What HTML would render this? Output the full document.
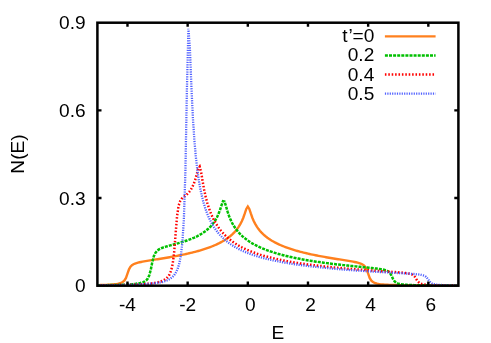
<!DOCTYPE html>
<html><head><meta charset="utf-8"><title>N(E)</title>
<style>
html,body{margin:0;padding:0;background:#fff;}
body{width:491px;height:343px;position:relative;overflow:hidden;font-family:"Liberation Sans",sans-serif;}
.lay{position:absolute;left:0;top:0;width:491px;height:343px;will-change:transform;}
.t{position:absolute;font-size:19.1px;line-height:21px;white-space:nowrap;color:#000;}
.yl{position:absolute;left:17.3px;top:154.3px;font-size:19.1px;line-height:21px;white-space:nowrap;transform:translate(-50%,-50%) rotate(-90deg);}
</style></head><body>
<svg width="491" height="343" viewBox="0 0 491 343" style="position:absolute;left:0;top:0">
<defs><clipPath id="c"><rect x="96.2" y="21.5" width="363.40" height="265.40"/></clipPath></defs><g clip-path="url(#c)">
<path d="M97.40,285.13 L98.90,285.10 L100.41,285.05 L101.91,285.01 L103.42,284.96 L104.92,284.90 L106.42,284.83 L107.93,284.76 L109.43,284.67 L110.94,284.58 L112.44,284.46 L113.95,284.32 L115.45,284.15 L116.95,283.93 L118.46,283.65 L119.96,283.26 L121.47,282.71 L122.97,281.87 L124.47,280.46 L125.98,277.89 L127.48,273.65 L128.99,269.37 L130.49,266.73 L132.00,265.22 L133.50,264.26 L135.00,263.59 L136.51,263.07 L138.01,262.64 L139.52,262.28 L141.02,261.96 L142.52,261.66 L144.03,261.38 L145.53,261.12 L147.04,260.86 L148.54,260.62 L150.05,260.38 L151.55,260.14 L153.05,259.90 L154.56,259.66 L156.06,259.43 L157.57,259.19 L159.07,258.95 L160.57,258.71 L162.08,258.47 L163.58,258.23 L165.09,257.98 L166.59,257.72 L168.10,257.47 L169.60,257.21 L171.10,256.94 L172.61,256.68 L174.11,256.40 L175.62,256.12 L177.12,255.83 L178.62,255.54 L180.13,255.24 L181.63,254.94 L183.14,254.62 L184.64,254.30 L186.15,253.97 L187.65,253.63 L189.15,253.29 L190.66,252.93 L192.16,252.56 L193.67,252.18 L195.17,251.79 L196.67,251.39 L198.18,250.98 L199.68,250.55 L201.19,250.11 L202.69,249.65 L204.20,249.17 L205.70,248.68 L207.20,248.17 L208.71,247.64 L210.21,247.08 L211.72,246.50 L213.22,245.90 L214.72,245.26 L216.23,244.60 L217.73,243.90 L219.24,243.17 L220.74,242.39 L222.25,241.57 L223.75,240.69 L225.25,239.77 L226.76,238.77 L228.26,237.70 L229.77,236.55 L231.27,235.29 L232.77,233.92 L234.28,232.40 L235.78,230.72 L237.29,228.83 L238.79,226.67 L240.30,224.17 L241.80,221.23 L243.30,217.69 L244.81,213.46 L246.31,208.89 L247.82,206.43 L249.32,208.90 L250.82,213.46 L252.33,217.69 L253.83,221.23 L255.34,224.17 L256.84,226.67 L258.35,228.83 L259.85,230.72 L261.35,232.40 L262.86,233.92 L264.36,235.29 L265.87,236.55 L267.37,237.70 L268.87,238.77 L270.38,239.77 L271.88,240.69 L273.39,241.57 L274.89,242.39 L276.40,243.17 L277.90,243.90 L279.40,244.60 L280.91,245.26 L282.41,245.90 L283.92,246.50 L285.42,247.08 L286.92,247.64 L288.43,248.17 L289.93,248.68 L291.44,249.17 L292.94,249.65 L294.45,250.11 L295.95,250.55 L297.45,250.98 L298.96,251.39 L300.46,251.79 L301.97,252.18 L303.47,252.56 L304.97,252.93 L306.48,253.29 L307.98,253.63 L309.49,253.97 L310.99,254.30 L312.50,254.62 L314.00,254.94 L315.50,255.24 L317.01,255.54 L318.51,255.83 L320.02,256.12 L321.52,256.40 L323.02,256.68 L324.53,256.94 L326.03,257.21 L327.54,257.47 L329.04,257.72 L330.55,257.98 L332.05,258.23 L333.55,258.47 L335.06,258.71 L336.56,258.95 L338.07,259.19 L339.57,259.43 L341.07,259.66 L342.58,259.90 L344.08,260.14 L345.59,260.38 L347.09,260.62 L348.60,260.86 L350.10,261.12 L351.60,261.38 L353.11,261.66 L354.61,261.96 L356.12,262.28 L357.62,262.64 L359.12,263.07 L360.63,263.59 L362.13,264.26 L363.64,265.22 L365.14,266.73 L366.65,269.37 L368.15,273.65 L369.65,277.89 L371.16,280.46 L372.66,281.87 L374.17,282.71 L375.67,283.26 L377.17,283.65 L378.68,283.93 L380.18,284.15 L381.69,284.32 L383.19,284.46 L384.70,284.58 L386.20,284.67 L387.70,284.76 L389.21,284.83 L390.71,284.90 L392.22,284.96 L393.72,285.01 L395.22,285.05 L396.73,285.10 L398.23,285.13 L399.74,285.17 L401.24,285.20 L402.75,285.23 L404.25,285.25 L405.75,285.28 L407.26,285.30 L408.76,285.32 L410.27,285.34 L411.77,285.36 L413.27,285.37 L414.78,285.39 L416.28,285.40 L417.79,285.42 L419.29,285.43 L420.80,285.44 L422.30,285.45 L423.80,285.47 L425.31,285.48 L426.81,285.49 L428.32,285.50 L429.82,285.50 L431.32,285.51 L432.83,285.52 L434.33,285.53 L435.84,285.54 L437.34,285.54 L438.85,285.55 L440.35,285.56 L441.85,285.56 L443.36,285.57 L444.86,285.57 L446.37,285.58 L447.87,285.58 L449.37,285.59 L450.88,285.59 L452.38,285.60 L453.89,285.60 L455.39,285.61 L456.90,285.61 L458.40,285.62" stroke="#ff801e" stroke-width="2.4" fill="none" stroke-linejoin="miter" stroke-miterlimit="10"/>
<path d="M97.40,285.27 L98.15,285.26 L99.66,285.25 L101.16,285.23 L102.66,285.20 L104.17,285.18 L105.67,285.16 L107.18,285.13 L108.68,285.11 L110.19,285.08 L111.69,285.05 L113.19,285.01 L114.70,284.98 L116.20,284.94 L117.71,284.90 L119.21,284.85 L120.71,284.80 L122.22,284.75 L123.72,284.69 L125.23,284.62 L126.73,284.55 L128.24,284.46 L129.74,284.37 L131.24,284.26 L132.75,284.14 L134.25,283.99 L135.76,283.82 L137.26,283.61 L138.76,283.36 L140.27,283.05 L141.77,282.64 L143.28,282.11 L144.78,281.36 L146.29,280.25 L147.79,278.46 L149.29,275.33 L150.80,269.65 L152.30,262.01 L153.81,256.28 L155.31,253.05 L156.81,251.14 L158.32,249.88 L159.82,248.97 L161.33,248.25 L162.83,247.65 L164.34,247.13 L165.84,246.66 L167.34,246.21 L168.85,245.79 L170.35,245.38 L171.86,244.98 L173.36,244.58 L174.86,244.17 L176.37,243.76 L177.87,243.34 L179.38,242.91 L180.88,242.46 L182.39,242.01 L183.89,241.53 L185.39,241.04 L186.90,240.52 L188.40,239.98 L189.91,239.42 L191.41,238.83 L192.91,238.20 L194.42,237.54 L195.92,236.84 L197.43,236.10 L198.93,235.30 L200.44,234.46 L201.94,233.55 L203.44,232.57 L204.95,231.50 L206.45,230.34 L207.96,229.07 L209.46,227.67 L210.96,226.10 L212.47,224.34 L213.97,222.33 L215.48,220.00 L216.98,217.27 L218.49,213.98 L219.99,210.00 L221.49,205.34 L223.00,201.26 L224.50,201.57 L226.01,206.24 L227.51,211.43 L229.01,215.89 L230.52,219.61 L232.02,222.74 L233.53,225.43 L235.03,227.78 L236.54,229.86 L238.04,231.72 L239.54,233.40 L241.05,234.94 L242.55,236.35 L244.06,237.65 L245.56,238.85 L247.06,239.98 L248.57,241.03 L250.07,242.02 L251.58,242.95 L253.08,243.83 L254.59,244.67 L256.09,245.46 L257.59,246.21 L259.10,246.93 L260.60,247.61 L262.11,248.26 L263.61,248.89 L265.11,249.49 L266.62,250.07 L268.12,250.62 L269.63,251.15 L271.13,251.66 L272.64,252.16 L274.14,252.64 L275.64,253.10 L277.15,253.54 L278.65,253.98 L280.16,254.39 L281.66,254.80 L283.16,255.19 L284.67,255.57 L286.17,255.94 L287.68,256.30 L289.18,256.65 L290.69,256.99 L292.19,257.32 L293.69,257.64 L295.20,257.95 L296.70,258.26 L298.21,258.56 L299.71,258.85 L301.21,259.13 L302.72,259.41 L304.22,259.69 L305.73,259.95 L307.23,260.21 L308.74,260.46 L310.24,260.71 L311.74,260.96 L313.25,261.19 L314.75,261.43 L316.26,261.65 L317.76,261.88 L319.26,262.10 L320.77,262.31 L322.27,262.52 L323.78,262.73 L325.28,262.93 L326.79,263.13 L328.29,263.33 L329.79,263.52 L331.30,263.71 L332.80,263.89 L334.31,264.08 L335.81,264.26 L337.31,264.43 L338.82,264.61 L340.32,264.78 L341.83,264.95 L343.33,265.12 L344.84,265.28 L346.34,265.44 L347.84,265.60 L349.35,265.76 L350.85,265.92 L352.36,266.08 L353.86,266.23 L355.36,266.38 L356.87,266.53 L358.37,266.69 L359.88,266.84 L361.38,266.99 L362.89,267.14 L364.39,267.29 L365.89,267.44 L367.40,267.59 L368.90,267.75 L370.41,267.91 L371.91,268.07 L373.41,268.23 L374.92,268.40 L376.42,268.58 L377.93,268.78 L379.43,268.98 L380.94,269.22 L382.44,269.48 L383.94,269.81 L385.45,270.22 L386.95,270.77 L388.46,271.61 L389.96,273.02 L391.46,275.50 L392.97,278.79 L394.47,281.23 L395.98,282.58 L397.48,283.34 L398.99,283.82 L400.49,284.15 L401.99,284.38 L403.50,284.56 L405.00,284.69 L406.51,284.80 L408.01,284.89 L409.51,284.97 L411.02,285.03 L412.52,285.08 L414.03,285.13 L415.53,285.17 L417.04,285.21 L418.54,285.24 L420.04,285.27 L421.55,285.30 L423.05,285.32 L424.56,285.34 L426.06,285.36 L427.56,285.38 L429.07,285.40 L430.57,285.41 L432.08,285.43 L433.58,285.44 L435.09,285.46 L436.59,285.47 L438.09,285.48 L439.60,285.49 L441.10,285.50 L442.61,285.51 L444.11,285.52 L445.61,285.52 L447.12,285.53 L448.62,285.54 L450.13,285.55 L451.63,285.55 L453.14,285.56 L454.64,285.57 L456.14,285.57 L457.65,285.58 L458.40,285.58" stroke="#00c000" stroke-width="2.5" fill="none" stroke-linejoin="miter" stroke-miterlimit="10" stroke-dasharray="3 1.1" stroke-dashoffset="4.03"/>
<path d="M97.40,285.30 L98.90,285.29 L100.41,285.28 L101.91,285.26 L103.42,285.24 L104.92,285.23 L106.42,285.21 L107.93,285.19 L109.43,285.17 L110.94,285.15 L112.44,285.13 L113.95,285.10 L115.45,285.08 L116.95,285.05 L118.46,285.02 L119.96,284.99 L121.47,284.96 L122.97,284.93 L124.47,284.90 L125.98,284.86 L127.48,284.82 L128.99,284.77 L130.49,284.73 L132.00,284.68 L133.50,284.63 L135.00,284.57 L136.51,284.50 L138.01,284.44 L139.52,284.36 L141.02,284.28 L142.52,284.19 L144.03,284.09 L145.53,283.98 L147.04,283.86 L148.54,283.72 L150.05,283.57 L151.55,283.39 L153.05,283.19 L154.56,282.96 L156.06,282.70 L157.57,282.39 L159.07,282.01 L160.57,281.57 L162.08,281.02 L163.58,280.33 L165.09,279.44 L166.59,278.27 L168.10,276.65 L169.60,274.30 L171.10,270.62 L172.61,264.35 L174.11,252.80 L175.62,233.77 L177.12,215.57 L178.62,205.74 L180.13,201.18 L181.63,198.86 L183.14,197.40 L184.64,196.23 L186.15,195.04 L187.65,193.68 L189.15,192.03 L190.66,189.98 L192.16,187.39 L193.67,184.09 L195.17,179.88 L196.67,174.58 L198.18,168.81 L199.68,166.62 L201.19,172.53 L202.69,181.67 L204.20,189.98 L205.70,196.89 L207.20,202.66 L208.71,207.53 L210.21,211.71 L211.72,215.37 L213.22,218.59 L214.72,221.46 L216.23,224.04 L217.73,226.37 L219.24,228.50 L220.74,230.45 L222.25,232.25 L223.75,233.91 L225.25,235.45 L226.76,236.88 L228.26,238.22 L229.77,239.47 L231.27,240.65 L232.77,241.76 L234.28,242.80 L235.78,243.79 L237.29,244.73 L238.79,245.62 L240.30,246.46 L241.80,247.27 L243.30,248.03 L244.81,248.76 L246.31,249.46 L247.82,250.13 L249.32,250.77 L250.82,251.38 L252.33,251.97 L253.83,252.54 L255.34,253.08 L256.84,253.61 L258.35,254.11 L259.85,254.60 L261.35,255.07 L262.86,255.52 L264.36,255.96 L265.87,256.39 L267.37,256.80 L268.87,257.19 L270.38,257.58 L271.88,257.95 L273.39,258.31 L274.89,258.67 L276.40,259.01 L277.90,259.34 L279.40,259.66 L280.91,259.97 L282.41,260.28 L283.92,260.58 L285.42,260.87 L286.92,261.15 L288.43,261.42 L289.93,261.69 L291.44,261.95 L292.94,262.21 L294.45,262.45 L295.95,262.70 L297.45,262.93 L298.96,263.16 L300.46,263.39 L301.97,263.61 L303.47,263.83 L304.97,264.04 L306.48,264.25 L307.98,264.45 L309.49,264.65 L310.99,264.84 L312.50,265.03 L314.00,265.22 L315.50,265.40 L317.01,265.58 L318.51,265.76 L320.02,265.93 L321.52,266.10 L323.02,266.28 L324.53,266.44 L326.03,266.61 L327.54,266.77 L329.04,266.93 L330.55,267.09 L332.05,267.24 L333.55,267.39 L335.06,267.54 L336.56,267.69 L338.07,267.83 L339.57,267.97 L341.07,268.11 L342.58,268.25 L344.08,268.39 L345.59,268.52 L347.09,268.65 L348.60,268.78 L350.10,268.91 L351.60,269.03 L353.11,269.15 L354.61,269.27 L356.12,269.39 L357.62,269.51 L359.12,269.62 L360.63,269.74 L362.13,269.85 L363.64,269.96 L365.14,270.07 L366.65,270.17 L368.15,270.28 L369.65,270.39 L371.16,270.49 L372.66,270.59 L374.17,270.70 L375.67,270.80 L377.17,270.90 L378.68,271.00 L380.18,271.10 L381.69,271.20 L383.19,271.30 L384.70,271.40 L386.20,271.50 L387.70,271.60 L389.21,271.70 L390.71,271.80 L392.22,271.90 L393.72,272.01 L395.22,272.11 L396.73,272.23 L398.23,272.34 L399.74,272.46 L401.24,272.60 L402.75,272.74 L404.25,272.90 L405.75,273.08 L407.26,273.29 L408.76,273.56 L410.27,273.92 L411.77,274.44 L413.27,275.26 L414.78,276.71 L416.28,279.08 L417.79,281.43 L419.29,282.85 L420.80,283.63 L422.30,284.09 L423.80,284.40 L425.31,284.61 L426.81,284.76 L428.32,284.88 L429.82,284.97 L431.32,285.05 L432.83,285.11 L434.33,285.17 L435.84,285.21 L437.34,285.25 L438.85,285.28 L440.35,285.31 L441.85,285.34 L443.36,285.36 L444.86,285.38 L446.37,285.40 L447.87,285.42 L449.37,285.44 L450.88,285.45 L452.38,285.47 L453.89,285.48 L455.39,285.49 L456.90,285.50 L458.40,285.51" stroke="#ff0000" stroke-width="2.5" fill="none" stroke-linejoin="miter" stroke-miterlimit="10" stroke-dasharray="1.55 1.85" stroke-dashoffset="0.97"/>
<path d="M97.40,285.30 L98.15,285.29 L99.66,285.28 L101.16,285.26 L102.66,285.25 L104.17,285.23 L105.67,285.21 L107.18,285.20 L108.68,285.18 L110.19,285.16 L111.69,285.14 L113.19,285.11 L114.70,285.09 L116.20,285.07 L117.71,285.04 L119.21,285.01 L120.71,284.98 L122.22,284.95 L123.72,284.92 L125.23,284.89 L126.73,284.85 L128.24,284.81 L129.74,284.77 L131.24,284.73 L132.75,284.68 L134.25,284.63 L135.76,284.57 L137.26,284.51 L138.76,284.45 L140.27,284.38 L141.77,284.30 L143.28,284.22 L144.78,284.13 L146.29,284.03 L147.79,283.92 L149.29,283.80 L150.80,283.67 L152.30,283.52 L153.81,283.36 L155.31,283.17 L156.81,282.96 L158.32,282.72 L159.82,282.45 L161.33,282.14 L162.83,281.78 L164.34,281.35 L165.84,280.85 L167.34,280.25 L168.85,279.52 L170.35,278.63 L171.86,277.51 L173.36,276.09 L174.86,274.22 L176.37,271.72 L177.87,268.23 L179.38,263.14 L180.88,255.28 L182.39,242.23 L183.89,218.57 L185.39,172.07 L186.90,89.65 L188.40,28.86 L189.91,48.60 L191.41,87.14 L192.91,118.02 L194.42,140.71 L195.92,157.65 L197.43,170.68 L198.93,181.01 L200.44,189.40 L201.94,196.36 L203.44,202.24 L204.95,207.27 L206.45,211.64 L207.96,215.47 L209.46,218.86 L210.96,221.88 L212.47,224.60 L213.97,227.06 L215.48,229.30 L216.98,231.34 L218.49,233.21 L219.99,234.94 L221.49,236.54 L223.00,238.03 L224.50,239.41 L226.01,240.70 L227.51,241.91 L229.01,243.04 L230.52,244.11 L232.02,245.12 L233.53,246.07 L235.03,246.97 L236.54,247.82 L238.04,248.63 L239.54,249.40 L241.05,250.14 L242.55,250.84 L244.06,251.51 L245.56,252.15 L247.06,252.76 L248.57,253.34 L250.07,253.91 L251.58,254.45 L253.08,254.96 L254.59,255.46 L256.09,255.94 L257.59,256.41 L259.10,256.85 L260.60,257.28 L262.11,257.70 L263.61,258.10 L265.11,258.49 L266.62,258.87 L268.12,259.23 L269.63,259.58 L271.13,259.93 L272.64,260.26 L274.14,260.58 L275.64,260.90 L277.15,261.20 L278.65,261.49 L280.16,261.78 L281.66,262.06 L283.16,262.33 L284.67,262.60 L286.17,262.86 L287.68,263.11 L289.18,263.35 L290.69,263.59 L292.19,263.83 L293.69,264.06 L295.20,264.28 L296.70,264.50 L298.21,264.71 L299.71,264.92 L301.21,265.12 L302.72,265.32 L304.22,265.51 L305.73,265.70 L307.23,265.89 L308.74,266.07 L310.24,266.25 L311.74,266.43 L313.25,266.60 L314.75,266.76 L316.26,266.93 L317.76,267.09 L319.26,267.25 L320.77,267.40 L322.27,267.56 L323.78,267.71 L325.28,267.85 L326.79,268.00 L328.29,268.14 L329.79,268.28 L331.30,268.41 L332.80,268.59 L334.31,268.74 L335.81,268.88 L337.31,269.02 L338.82,269.15 L340.32,269.28 L341.83,269.41 L343.33,269.53 L344.84,269.65 L346.34,269.77 L347.84,269.89 L349.35,270.00 L350.85,270.11 L352.36,270.22 L353.86,270.33 L355.36,270.44 L356.87,270.55 L358.37,270.65 L359.88,270.75 L361.38,270.86 L362.89,270.95 L364.39,271.05 L365.89,271.15 L367.40,271.25 L368.90,271.34 L370.41,271.43 L371.91,271.53 L373.41,271.62 L374.92,271.71 L376.42,271.80 L377.93,271.89 L379.43,271.97 L380.94,272.06 L382.44,272.15 L383.94,272.23 L385.45,272.32 L386.95,272.40 L388.46,272.48 L389.96,272.57 L391.46,272.65 L392.97,272.73 L394.47,272.82 L395.98,272.90 L397.48,272.98 L398.99,273.06 L400.49,273.15 L401.99,273.23 L403.50,273.32 L405.00,273.41 L406.51,273.50 L408.01,273.59 L409.51,273.69 L411.02,273.79 L412.52,273.90 L414.03,274.02 L415.53,274.15 L417.04,274.30 L418.54,274.47 L420.04,274.68 L421.55,274.95 L423.05,275.33 L424.56,275.90 L426.06,276.88 L427.56,278.60 L429.07,280.90 L430.57,282.60 L432.08,283.54 L433.58,284.08 L435.09,284.41 L436.59,284.64 L438.09,284.80 L439.60,284.92 L441.10,285.01 L442.61,285.09 L444.11,285.15 L445.61,285.20 L447.12,285.24 L448.62,285.28 L450.13,285.31 L451.63,285.34 L453.14,285.37 L454.64,285.39 L456.14,285.41 L457.65,285.43 L458.40,285.44" stroke="#5262ff" stroke-width="2.3" fill="none" stroke-linejoin="miter" stroke-miterlimit="10" stroke-dasharray="1.2 1.2" stroke-dashoffset="0.20"/>
</g>
<rect x="97.4" y="22.7" width="361.00" height="263.00" fill="none" stroke="#000" stroke-width="2.5"/>
<path d="M127.48,285.7 v-4.1 M127.48,22.7 v4.1 M187.65,285.7 v-4.1 M187.65,22.7 v4.1 M247.82,285.7 v-4.1 M247.82,22.7 v4.1 M307.98,285.7 v-4.1 M307.98,22.7 v4.1 M368.15,285.7 v-4.1 M368.15,22.7 v4.1 M428.32,285.7 v-4.1 M428.32,22.7 v4.1 M97.4,198.03 h4.1 M458.4,198.03 h-4.1 M97.4,110.37 h4.1 M458.4,110.37 h-4.1" stroke="#000" stroke-width="2.4" fill="none"/>
<path d="M384.9,36.4 H435.6" stroke="#ff801e" stroke-width="2.4" fill="none" stroke-linejoin="miter" stroke-miterlimit="10"/>
<path d="M384.9,55.4 H435.6" stroke="#00c000" stroke-width="2.5" fill="none" stroke-linejoin="miter" stroke-miterlimit="10" stroke-dasharray="3 1.1"/>
<path d="M384.9,74.5 H435.6" stroke="#ff0000" stroke-width="2.5" fill="none" stroke-linejoin="miter" stroke-miterlimit="10" stroke-dasharray="1.55 1.85"/>
<path d="M384.9,93.7 H435.6" stroke="#5262ff" stroke-width="2.3" fill="none" stroke-linejoin="miter" stroke-miterlimit="10" stroke-dasharray="1.2 1.2"/>
</svg>
<div class="lay">
<div class="t" style="left:127.48333333333333px;top:293.58px;transform:translateX(-50%);">-4</div>
<div class="t" style="left:187.65px;top:293.58px;transform:translateX(-50%);">-2</div>
<div class="t" style="left:250.3166666666667px;top:293.58px;transform:translateX(-50%);">0</div>
<div class="t" style="left:310.48333333333335px;top:293.58px;transform:translateX(-50%);">2</div>
<div class="t" style="left:370.65px;top:293.58px;transform:translateX(-50%);">4</div>
<div class="t" style="left:430.8166666666666px;top:293.58px;transform:translateX(-50%);">6</div>
<div class="t" style="left:85.6px;top:275.28px;transform:translateX(-100%);">0</div>
<div class="t" style="left:85.6px;top:187.61px;transform:translateX(-100%);">0.3</div>
<div class="t" style="left:85.6px;top:99.95px;transform:translateX(-100%);">0.6</div>
<div class="t" style="left:85.6px;top:12.28px;transform:translateX(-100%);">0.9</div>
<div class="t" style="left:277.9px;top:322.28px;transform:translateX(-50%);">E</div>
<div class="t" style="left:374.3px;top:25.48px;transform:translateX(-100%);"><span style="letter-spacing:0.85px">t</span><span style="letter-spacing:-0.25px">’</span>=0</div>
<div class="t" style="left:374.3px;top:44.48px;transform:translateX(-100%);">0.2</div>
<div class="t" style="left:374.3px;top:63.58px;transform:translateX(-100%);">0.4</div>
<div class="t" style="left:374.3px;top:82.78px;transform:translateX(-100%);">0.5</div>
<div class="yl">N(E)</div>
</div>
</body></html>
